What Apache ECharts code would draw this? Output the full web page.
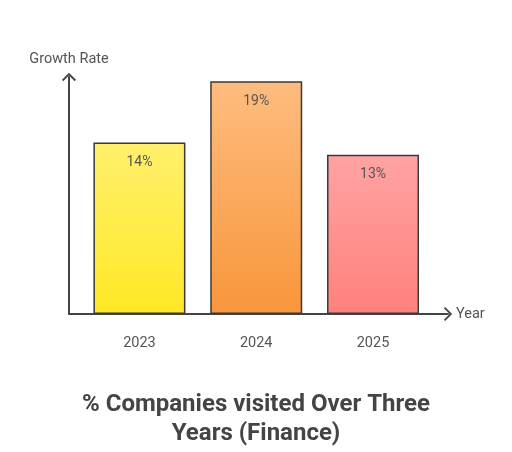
<!DOCTYPE html>
<html>
<head>
<meta charset="utf-8">
<script src="https://cdn.jsdelivr.net/npm/echarts@6/dist/echarts.min.js"></script>
<style>html,body{margin:0;padding:0;background:#fff}#c{width:512px;height:452px}</style>
</head>
<body>
<div id="c"></div>
<script>
var categories = ['2023', '2024', '2025'];
var values = [14, 19, 13];
var topColors = ['#FFF06C', '#FEBC7F', '#FFA3A3'];
var bottomColors = ['#FFE826', '#F8963B', '#FF817D'];
var titleText = '% Companies visited Over Three\nYears (Finance)';
var yName = 'Growth Rate';
var xName = 'Year';

var chevron = 'path://M0,10 L10,0 L20,10 L18.2,11.8 L10,3.6 L1.8,11.8 Z';
var font = 'Roboto, "Noto Sans", sans-serif';

var chart = echarts.init(document.getElementById('c'), null, {renderer: 'canvas'});
chart.setOption({
  animation: false,
  backgroundColor: '#ffffff',
  title: {
    text: titleText,
    left: 'center',
    top: 385,
    textStyle: {fontFamily: font, fontSize: 24, fontWeight: 'bold', color: '#444444', lineHeight: 29}
  },
  grid: {left: 69, right: 64, top: 77, bottom: 138},
  xAxis: {
    type: 'value',
    min: -0.603,
    max: 2.642,
    splitLine: {show: false},
    axisLine: {show: true, lineStyle: {color: '#444444', width: 2}, symbol: ['none', chevron], symbolSize: [14, 9], symbolOffset: [0, 0]},
    axisTick: {show: false},
    axisLabel: {
      customValues: [0, 1, 2],
      formatter: function (v) { return categories[Math.round(v)]; },
      margin: 22,
      color: '#555555',
      fontSize: 14.5,
      fontFamily: font
    },
    name: xName,
    nameLocation: 'end',
    nameGap: 8,
    nameTextStyle: {color: '#555555', fontSize: 14.5, fontFamily: font}
  },
  yAxis: {
    type: 'value',
    min: 0,
    max: 19.34,
    splitLine: {show: false},
    axisLine: {show: true, onZero: false, lineStyle: {color: '#444444', width: 2}, symbol: ['none', chevron], symbolSize: [14, 9], symbolOffset: [0, 0]},
    axisTick: {show: false},
    axisLabel: {show: false},
    name: yName,
    nameLocation: 'end',
    nameGap: 10,
    nameTextStyle: {color: '#555555', fontSize: 14.5, fontFamily: font, align: 'center'}
  },
  series: [{
    type: 'bar',
    barWidth: 92,
    data: values.map(function (v, i) {
      return {
        value: [i, v],
        itemStyle: {
          color: new echarts.graphic.LinearGradient(0, 0, 0, 1, [
            {offset: 0, color: topColors[i]},
            {offset: 1, color: bottomColors[i]}
          ]),
          borderColor: '#3a3a3a',
          borderWidth: 1.5
        }
      };
    }),
    label: {
      show: true,
      position: 'insideTop',
      distance: 13,
      formatter: function (p) { return p.value[1] + '%'; },
      color: '#555555',
      fontSize: 14,
      fontFamily: font
    }
  }]
});
</script>
</body>
</html>
